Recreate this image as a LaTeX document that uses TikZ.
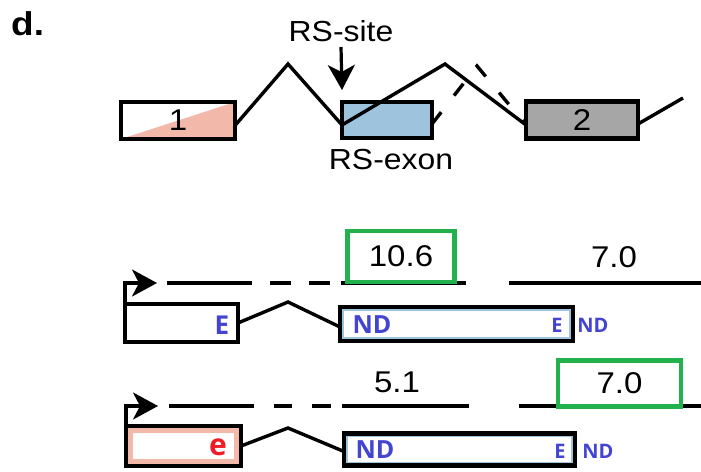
\documentclass[tikz,border=0pt]{standalone}
\usepackage{fontspec}
\usetikzlibrary{arrows.meta,calc}
\newfontfamily\arialf{Liberation Sans}[FakeStretch=1.1]
\newfontfamily\arialb{Liberation Sans}[FakeStretch=1.12]
\newfontfamily\osans{Open Sans}
\definecolor{exonpink}{RGB}{242,184,170}
\definecolor{exonblue}{RGB}{158,195,220}
\definecolor{exongray}{RGB}{166,166,166}
\definecolor{boxgreen}{RGB}{34,177,76}
\definecolor{ndblue}{RGB}{68,68,210}
\definecolor{ered}{RGB}{238,28,36}
\begin{document}
\begin{tikzpicture}[x=1pt,y=-1pt,
  exon/.style={draw=black, line width=4.2pt, inner sep=0pt, outer sep=0pt},
  labf/.style={font=\arialf\fontsize{29}{30}\selectfont, inner sep=0pt},
  bigtag/.style={font=\osans\bfseries\fontsize{25}{26}\selectfont, text=ndblue, inner sep=0pt},
  smalltag/.style={font=\osans\bfseries\fontsize{20}{21}\selectfont, text=ndblue, inner sep=0pt},
  conn/.style={draw=black, line width=3.4pt},
  track/.style={draw=black, line width=3.8pt},
  hit/.style={draw=boxgreen, line width=4.6pt, inner sep=0pt, outer sep=0pt, font=\arialf\fontsize{30}{31}\selectfont},
  bigarrow/.style={line width=3.2pt, -{Stealth[length=25pt,width=27pt,inset=7pt]}},
  blueline/.style={path picture={\draw[exonblue, line width=7.2pt] (path picture bounding box.south west) rectangle (path picture bounding box.north east);}}
]
\useasboundingbox (0,0) rectangle (701,471);

% panel label
\node[font=\arialb\bfseries\fontsize{33}{34}\selectfont, anchor=base west, inner sep=0pt] (plab) at (11,35) {d.};

% ---------- top gene model ----------
\node[exon, minimum width=114pt, minimum height=37pt,
  path picture={\fill[exonpink] (path picture bounding box.south west) -- (path picture bounding box.north east) -- (path picture bounding box.south east) -- cycle;},
  font=\arialf\fontsize{30}{31}\selectfont] (b1) at (178,120.5) {1};
\node[exon, fill=exonblue, minimum width=90pt, minimum height=36pt] (rs) at (387,120) {};
\node[exon, fill=exongray, minimum width=112pt, minimum height=37pt,
  font=\arialf\fontsize{30}{31}\selectfont] (b2) at (582,120) {2};

\coordinate (pk1) at (288,64);
\coordinate (pk2) at (445,64);
\coordinate (pk3) at (477,66);
\coordinate (tail) at (683,98);

\draw[conn] ($(b1.east)+(0,5)$) -- (pk1) -- ($(rs.west)+(0,5)$);
\draw[conn] ($(rs.west)+(0,5)$) -- (pk2) -- ($(b2.west)+(0,5)$);
\draw[conn, dash pattern=on 15pt off 21pt] ($(rs.east)+(0,4)$) -- (pk3) -- ($(b2.west)+(0,5)$);
\draw[conn] ($(b2.east)+(0,4)$) -- (tail);

\node[labf] (rssite) at (341,31) {RS-site};
\coordinate (rstip) at (342,90);
\draw[bigarrow] (rssite.south |- 0,47) -- (rstip);
\node[labf] (rsexon) at (391,160) {RS-exon};

% ---------- row 1 ----------
\draw[track] (167,283) -- (252,283);
\draw[track] (270,283) -- (291,283);
\draw[track] (309,283) -- (330,283);
\draw[track] (341,283) -- (466,283);
\draw[track] (509,283) -- (701,283);

\node[exon, minimum width=113pt, minimum height=38pt] (eb1) at (181.5,323) {};
\node[exon, fill=white, blueline, minimum width=233pt, minimum height=34pt] (nd1) at (456.5,324) {};
\coordinate (tip1) at (157,283);
\draw[bigarrow] (eb1.north west) |- (tip1);
\draw[conn] (eb1.east) -- (288,302) -- ($(nd1.west)+(0,3)$);

\node[bigtag, font=\osans\bfseries\fontsize{26}{27}\selectfont] (t1e) at (222,325) {E};
\node[bigtag] (t1nd) at (372,325) {ND};
\node[smalltag] (t1e2) at (557,325.5) {E};
\node[smalltag] (t1nd2) at (593,325.5) {ND};

\node[hit, minimum width=107pt, minimum height=51pt] (g1) at (401,256.5) {10.6};
\node[labf, font=\arialf\fontsize{30}{31}\selectfont] (n70a) at (614,257) {7.0};

% ---------- row 2 ----------
\draw[track] (169,406) -- (254,406);
\draw[track] (274,406) -- (292,406);
\draw[track] (312,406) -- (331,406);
\draw[track] (342,406) -- (469,406);
\draw[track] (519,406) -- (701,406);

\node[exon, fill=white, minimum width=115pt, minimum height=40pt,
  path picture={\draw[exonpink, line width=13.5pt] (path picture bounding box.south west) rectangle (path picture bounding box.north east);}] (eb2) at (183.5,446) {};
\node[exon, fill=white, blueline, minimum width=231pt, minimum height=32pt] (nd2) at (459.5,449.5) {};
\coordinate (tip2) at (158,406);
\draw[bigarrow] (eb2.north west) |- (tip2);
\draw[conn] (eb2.east) -- (288,428) -- ($(nd2.west)+(0,2)$);

\node[font=\osans\bfseries\fontsize{30}{31}\selectfont, text=ered, inner sep=0pt] (t2e) at (218,447) {e};
\node[bigtag] (t2nd) at (375,450) {ND};
\node[smalltag] (t2e2) at (560,451) {E};
\node[smalltag] (t2nd2) at (598,451) {ND};

\node[labf, font=\arialf\fontsize{30}{31}\selectfont] (n51) at (397,382) {5.1};
\node[hit, minimum width=123pt, minimum height=46pt] (g2) at (619.5,383.5) {7.0};
\end{tikzpicture}
\end{document}
